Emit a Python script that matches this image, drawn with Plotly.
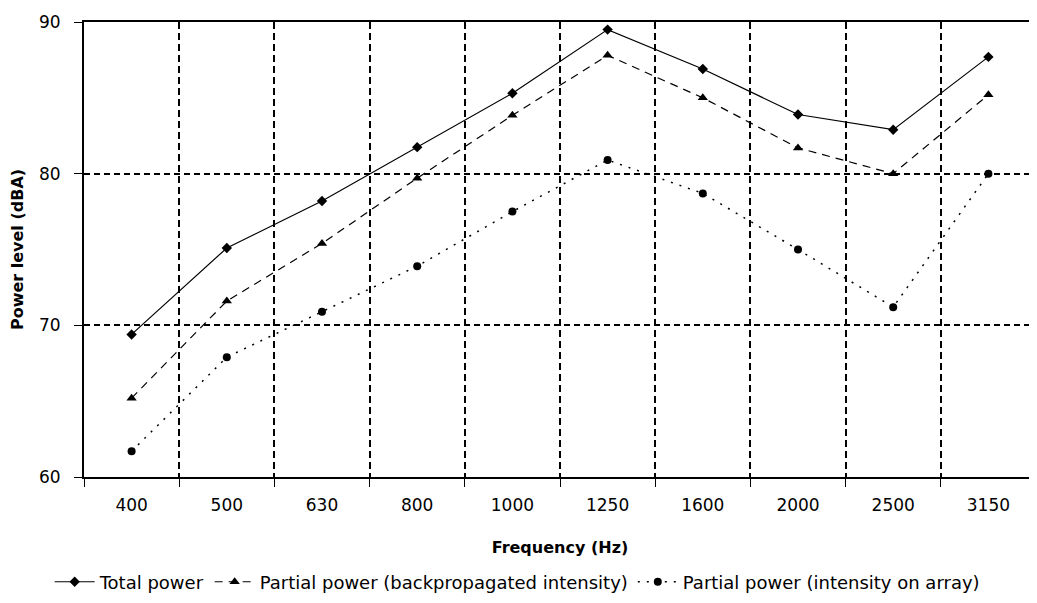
import plotly.graph_objects as go

freqs = ["400", "500", "630", "800", "1000", "1250", "1600", "2000", "2500", "3150"]
total_power = [69.4, 75.1, 78.2, 81.75, 85.3, 89.5, 86.9, 83.9, 82.9, 87.7]
backprop_power = [65.2, 71.6, 75.4, 79.7, 83.85, 87.8, 85.0, 81.7, 80.0, 85.2]
array_power = [61.7, 67.9, 70.9, 73.9, 77.5, 80.9, 78.7, 75.0, 71.2, 80.0]

font_family = "DejaVu Sans, Verdana, sans-serif"

fig = go.Figure()
fig.add_trace(go.Scatter(
    x=freqs, y=total_power, name="Total power", mode="lines+markers",
    line=dict(color="black", width=1.2, dash="solid"),
    marker=dict(symbol="diamond", size=8, color="black"),
))
fig.add_trace(go.Scatter(
    x=freqs, y=backprop_power, name="Partial power (backpropagated intensity)",
    mode="lines+markers",
    line=dict(color="black", width=1.2, dash="8px,6px"),
    marker=dict(symbol="triangle-up", size=9, color="black"),
))
fig.add_trace(go.Scatter(
    x=freqs, y=array_power, name="Partial power (intensity on array)",
    mode="lines+markers",
    line=dict(color="black", width=1.5, dash="2px,7px"),
    marker=dict(symbol="circle", size=8, color="black"),
))

fig.update_layout(
    width=1037, height=603,
    margin=dict(l=76, r=9, t=14, b=134, autoexpand=False),
    paper_bgcolor="white", plot_bgcolor="white",
    font=dict(family=font_family, size=17, color="black"),
    showlegend=True,
    legend=dict(
        orientation="h", xref="container", yref="container",
        x=0.491, xanchor="center", y=0.048, yanchor="middle",
        font=dict(size=18), itemwidth=40, tracegroupgap=0,
    ),
    xaxis=dict(
        type="category", range=[-0.5, 9.5], tickson="boundaries",
        automargin=True,
        showgrid=True, gridcolor="black", gridwidth=1.6, griddash="7px,4px",
        showline=True, linecolor="black", linewidth=2, mirror=True,
        ticks="outside", ticklen=8, tickcolor="black", tickwidth=1,
        ticklabelstandoff=12,
        title=dict(text="<b>Frequency (Hz)</b>", font=dict(size=16), standoff=27),
        tickfont=dict(size=17), zeroline=False,
    ),
    yaxis=dict(
        range=[60, 90], tickvals=[60, 70, 80, 90],
        automargin=True,
        showgrid=True, gridcolor="black", gridwidth=1.6, griddash="6px,4px",
        showline=True, linecolor="black", linewidth=2, mirror=True,
        ticks="outside", ticklen=8, tickcolor="black", tickwidth=1,
        ticklabelstandoff=10,
        title=dict(text="<b>Power level (dBA)</b>", font=dict(size=16), standoff=12),
        tickfont=dict(size=17), zeroline=False,
    ),
)

fig.write_html("out.html")
